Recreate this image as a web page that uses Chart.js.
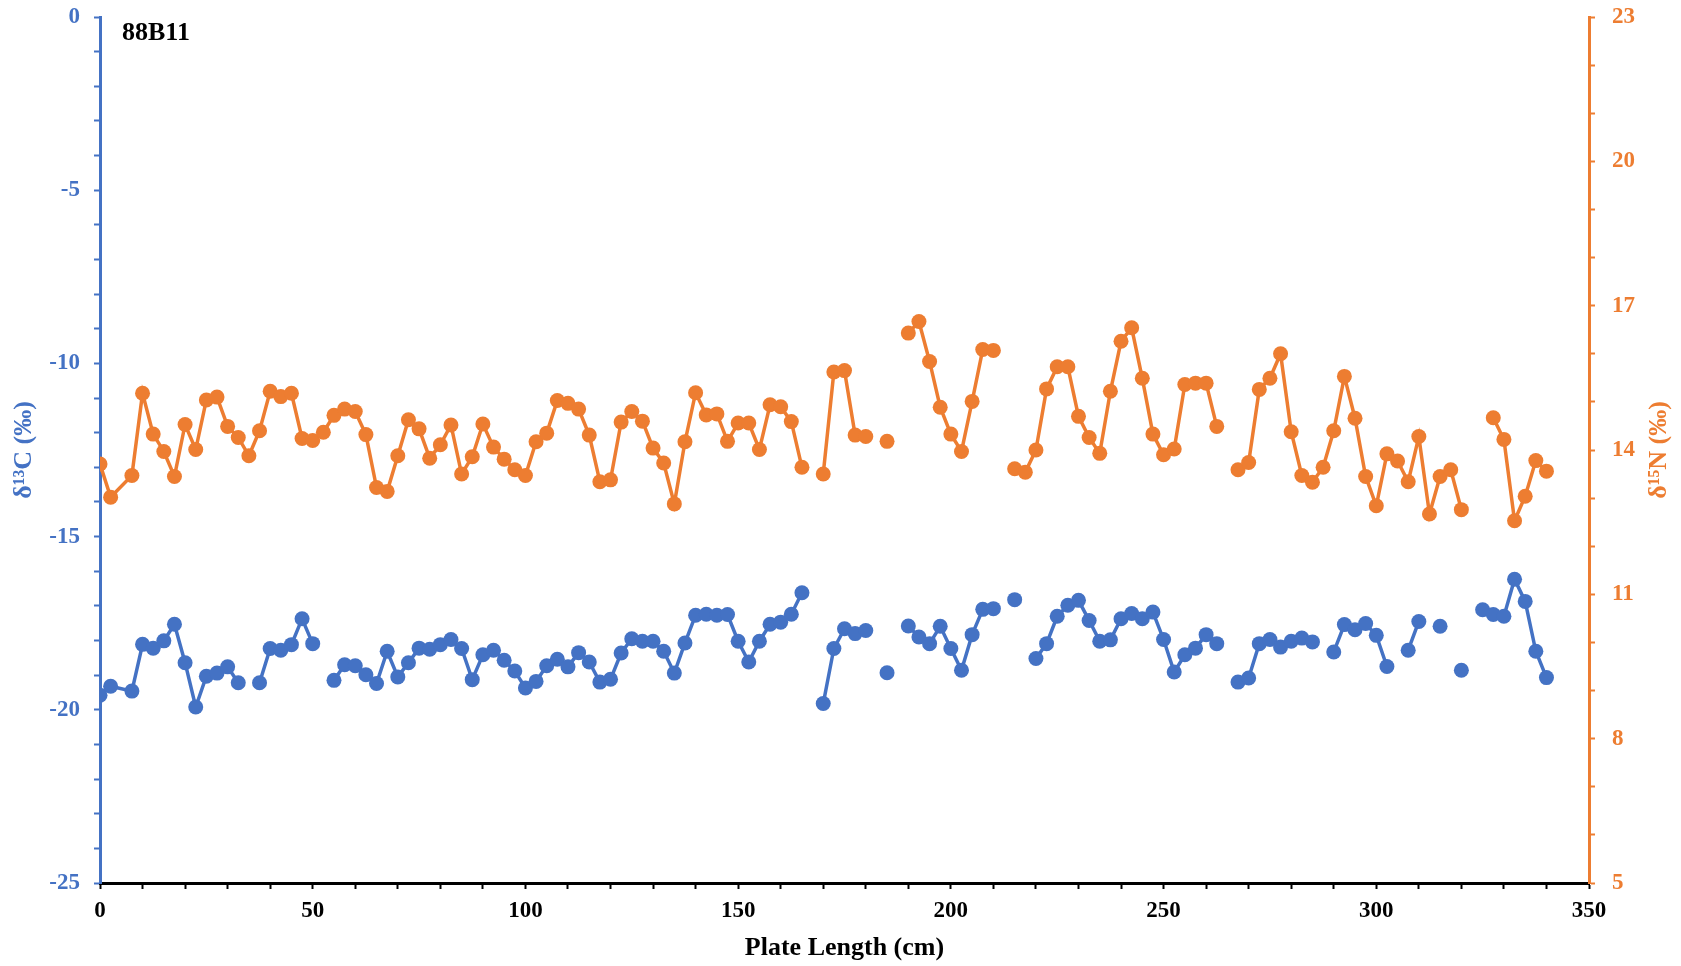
<!DOCTYPE html>
<html>
<head>
<meta charset="utf-8">
<title>88B11</title>
<script src="https://cdn.jsdelivr.net/npm/chart.js@4.4.1/dist/chart.umd.min.js"></script>
<style>
  html, body { margin: 0; padding: 0; background: #ffffff; }
  #chart { display: block; }
</style>
</head>
<body>
<canvas id="chart" width="1681" height="966"></canvas>
<script>
// --- données : profondeur le long de la plaque (cm) ---
const plateLength = [
    0, 2.5, 7.5, 10, 12.5, 15, 17.5, 20, 22.5, 25,
    27.5, 30, 32.5, 35, 37.5, 40, 42.5, 45, 47.5, 50,
    52.5, 55, 57.5, 60, 62.5, 65, 67.5, 70, 72.5, 75,
    77.5, 80, 82.5, 85, 87.5, 90, 92.5, 95, 97.5, 100,
    102.5, 105, 107.5, 110, 112.5, 115, 117.5, 120, 122.5, 125,
    127.5, 130, 132.5, 135, 137.5, 140, 142.5, 145, 147.5, 150,
    152.5, 155, 157.5, 160, 162.5, 165, 167.5, 170, 172.5, 175,
    177.5, 180, 182.5, 185, 187.5, 190, 192.5, 195, 197.5, 200,
    202.5, 205, 207.5, 210, 212.5, 215, 217.5, 220, 222.5, 225,
    227.5, 230, 232.5, 235, 237.5, 240, 242.5, 245, 247.5, 250,
    252.5, 255, 257.5, 260, 262.5, 265, 267.5, 270, 272.5, 275,
    277.5, 280, 282.5, 285, 287.5, 290, 292.5, 295, 297.5, 300,
    302.5, 305, 307.5, 310, 312.5, 315, 317.5, 320, 322.5, 325,
    327.5, 330, 332.5, 335, 337.5, 340
];

// δ13C (‰) - null = pas de mesure (coupe la ligne)
const delta13C = [
    -19.58, -19.32, -19.46, -18.11, -18.22, -18.01, -17.53, -18.64, -19.92, -19.03,
    -18.94, -18.76, -19.22, null, -19.22, -18.23, -18.28, -18.12, -17.37, -18.09,
    null, -19.15, -18.70, -18.73, -18.99, -19.24, -18.31, -19.05, -18.64, -18.22,
    -18.25, -18.12, -17.97, -18.23, -19.13, -18.41, -18.28, -18.57, -18.88, -19.37,
    -19.18, -18.73, -18.54, -18.76, -18.35, -18.62, -19.20, -19.12, -18.36, -17.95,
    -18.02, -18.02, -18.31, -18.94, -18.07, -17.27, -17.24, -17.27, -17.25, -18.02,
    -18.62, -18.02, -17.53, -17.47, -17.24, -16.62, null, -19.82, -18.23, -17.66,
    -17.80, -17.71, null, -18.93, null, -17.58, -17.90, -18.09, -17.59, -18.23,
    -18.86, -17.83, -17.10, -17.08, null, -16.82, null, -18.52, -18.09, -17.30,
    -16.98, -16.84, -17.42, -18.02, -17.98, -17.37, -17.22, -17.37, -17.18, -17.97,
    -18.91, -18.41, -18.22, -17.83, -18.09, null, -19.20, -19.08, -18.09, -17.97,
    -18.19, -18.02, -17.93, -18.04, null, -18.33, -17.54, -17.69, -17.51, -17.85,
    -18.75, null, -18.28, -17.45, null, -17.59, null, -18.86, null, -17.11,
    -17.25, -17.30, -16.23, -16.87, -18.31, -19.07
];

// δ15N (‰)
const delta15N = [
    13.71, 13.02, 13.47, 15.18, 14.33, 13.97, 13.45, 14.53, 14.01, 15.04,
    15.10, 14.49, 14.26, 13.88, 14.40, 15.22, 15.11, 15.18, 14.24, 14.20,
    14.37, 14.72, 14.85, 14.80, 14.32, 13.22, 13.14, 13.88, 14.63, 14.44,
    13.83, 14.11, 14.52, 13.50, 13.86, 14.54, 14.06, 13.81, 13.59, 13.47,
    14.17, 14.35, 15.03, 14.97, 14.85, 14.31, 13.34, 13.38, 14.58, 14.80,
    14.60, 14.04, 13.73, 12.88, 14.17, 15.19, 14.73, 14.75, 14.18, 14.56,
    14.56, 14.01, 14.94, 14.90, 14.59, 13.64, null, 13.50, 15.62, 15.65,
    14.31, 14.28, null, 14.18, null, 16.43, 16.67, 15.84, 14.89, 14.33,
    13.97, 15.01, 16.09, 16.07, null, 13.61, 13.54, 14.00, 15.27, 15.73,
    15.73, 14.70, 14.26, 13.93, 15.22, 16.26, 16.54, 15.49, 14.33, 13.90,
    14.02, 15.36, 15.39, 15.39, 14.49, null, 13.59, 13.74, 15.26, 15.49,
    16.00, 14.38, 13.47, 13.33, 13.64, 14.40, 15.53, 14.66, 13.45, 12.84,
    13.92, 13.77, 13.34, 14.28, 12.67, 13.45, 13.59, 12.76, null, null,
    14.67, 14.22, 12.53, 13.04, 13.78, 13.56
];

// graduations avec étiquette
const xLabelTicks = [0, 50, 100, 150, 200, 250, 300, 350];
const cLabelTicks = [0, -5, -10, -15, -20, -25];
const nLabelTicks = [5, 8, 11, 14, 17, 20, 23];

const BLUE = '#4472C4';
const ORANGE = '#ED7D31';
const SERIF = '"Liberation Serif", "Times New Roman", serif';

document.addEventListener('DOMContentLoaded', () => {

    const toPoints = values => plateLength.map((x, i) => ({ x: x, y: values[i] }));

    // largeur fixe pour les axes verticaux, sans marge haute/basse automatique
    const fixVertical = width => scale => {
        scale.width = width;
        scale.paddingTop = 0;
        scale.paddingBottom = 0;
    };

    // libellé "88B11" + titre de l'axe de droite (lu de bas en haut, comme Excel)
    const extraText = {
        id: 'extraText',
        afterDraw(chart) {
            const ctx = chart.ctx;
            const area = chart.chartArea;
            ctx.save();
            ctx.font = 'bold 26px ' + SERIF;
            ctx.fillStyle = '#000000';
            ctx.textAlign = 'left';
            ctx.textBaseline = 'middle';
            ctx.fillText('88B11', 122, 33);

            ctx.translate(1659, (area.top + area.bottom) / 2);
            ctx.rotate(-Math.PI / 2);
            ctx.font = 'bold 26px ' + SERIF;
            ctx.fillStyle = ORANGE;
            ctx.textAlign = 'center';
            ctx.fillText('δ¹⁵N (‰)', 0, 0);
            ctx.restore();
        }
    };

    const tickFont = { family: SERIF, size: 23, weight: 'bold' };

    new Chart(document.getElementById('chart'), {
        type: 'line',
        data: {
            datasets: [
                {
                    label: 'δ13C',
                    data: toPoints(delta13C),
                    yAxisID: 'yC',
                    borderColor: BLUE,
                    backgroundColor: BLUE,
                    borderWidth: 3.5,
                    pointRadius: 7.5,
                    pointHoverRadius: 7.5,
                    pointBorderWidth: 0,
                    tension: 0,
                    spanGaps: false
                },
                {
                    label: 'δ15N',
                    data: toPoints(delta15N),
                    yAxisID: 'yN',
                    borderColor: ORANGE,
                    backgroundColor: ORANGE,
                    borderWidth: 3.5,
                    pointRadius: 7.5,
                    pointHoverRadius: 7.5,
                    pointBorderWidth: 0,
                    tension: 0,
                    spanGaps: false
                }
            ]
        },
        options: {
            responsive: false,
            animation: false,
            devicePixelRatio: 1,
            layout: { padding: { top: 17, left: 0, right: 0, bottom: 0 } },
            plugins: {
                legend: { display: false },
                tooltip: { enabled: false }
            },
            scales: {
                x: {
                    type: 'linear',
                    min: 0,
                    max: 350,
                    afterFit: scale => { scale.height = 83; },
                    border: { color: '#000000', width: 3 },
                    grid: { drawOnChartArea: false, drawTicks: true, tickLength: 6, tickWidth: 2, color: '#000000' },
                    ticks: {
                        stepSize: 10,
                        autoSkip: false,
                        maxRotation: 0,
                        maxTicksLimit: 100,
                        padding: 8,
                        color: '#000000',
                        font: tickFont,
                        callback: v => xLabelTicks.includes(v) ? String(v) : ''
                    },
                    title: {
                        display: true,
                        text: 'Plate Length (cm)',
                        color: '#000000',
                        font: { family: SERIF, size: 26, weight: 'bold' },
                        padding: { top: 0, bottom: 2 }
                    }
                },
                yC: {
                    type: 'linear',
                    position: 'left',
                    min: -25,
                    max: 0,
                    afterFit: fixVertical(100),
                    border: { color: BLUE, width: 3 },
                    grid: { drawOnChartArea: false, drawTicks: true, tickLength: 6, tickWidth: 2, color: BLUE },
                    ticks: {
                        stepSize: 1,
                        autoSkip: false,
                        maxTicksLimit: 100,
                        padding: 14,
                        color: BLUE,
                        font: tickFont,
                        callback: v => cLabelTicks.includes(v) ? String(v) : ''
                    },
                    title: {
                        display: true,
                        text: 'δ¹³C (‰)',
                        color: BLUE,
                        font: { family: SERIF, size: 26, weight: 'bold' },
                        padding: { top: 9, bottom: 0 }
                    }
                },
                yN: {
                    type: 'linear',
                    position: 'right',
                    min: 5,
                    max: 23,
                    afterFit: fixVertical(92),
                    border: { color: ORANGE, width: 3 },
                    grid: { drawOnChartArea: false, drawTicks: true, tickLength: 6, tickWidth: 2, color: ORANGE },
                    ticks: {
                        stepSize: 1,
                        autoSkip: false,
                        maxTicksLimit: 100,
                        padding: 17,
                        color: ORANGE,
                        font: tickFont,
                        callback: v => nLabelTicks.includes(v) ? String(v) : ''
                    },
                    title: { display: false }
                }
            }
        },
        plugins: [extraText]
    });
});
</script>
</body>
</html>
